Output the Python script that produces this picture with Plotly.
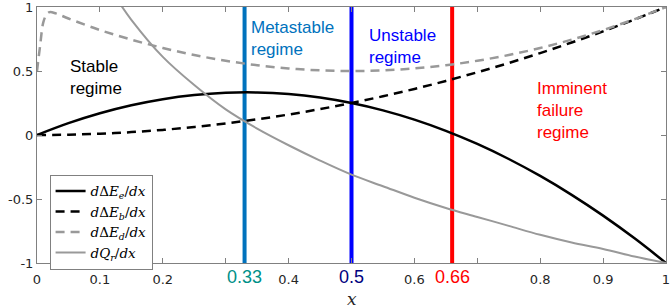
import plotly.graph_objects as go

# ---- data ----
x_e = [0, 0.05, 0.1, 0.15, 0.2, 0.25, 0.3, 0.35, 0.4, 0.45, 0.5, 0.55, 0.6, 0.65, 0.7, 0.75, 0.8, 0.85, 0.9, 0.95, 1.0]
dEe = [0, 0.0925, 0.17, 0.2325, 0.28, 0.3125, 0.33, 0.3325, 0.32, 0.2925, 0.25, 0.1925, 0.12, 0.0325, -0.07, -0.1875, -0.32, -0.4675, -0.63, -0.8075, -1.0]
dEb = [0, 0.0025, 0.01, 0.0225, 0.04, 0.0625, 0.09, 0.1225, 0.16, 0.2025, 0.25, 0.3025, 0.36, 0.4225, 0.49, 0.5625, 0.64, 0.7225, 0.81, 0.9025, 1.0]

x_d = [0, 0.005, 0.01, 0.015, 0.02, 0.03, 0.05, 0.1, 0.15, 0.2, 0.25, 0.3, 0.35, 0.4, 0.45, 0.5, 0.55, 0.6, 0.65, 0.7, 0.75, 0.8, 0.85, 0.9, 0.95, 1.0]
dEd = [0.5, 0.7, 0.88, 0.94, 0.96, 0.95, 0.91, 0.82, 0.745, 0.68, 0.625, 0.58, 0.545, 0.52, 0.505, 0.5, 0.505, 0.52, 0.545, 0.58, 0.625, 0.68, 0.745, 0.82, 0.905, 1.0]

x_q = [0.12, 0.13, 0.15, 0.2, 0.25, 0.3, 0.35, 0.4, 0.45, 0.5, 0.55, 0.6, 0.65, 0.7, 0.75, 0.8, 0.85, 0.9, 0.95, 1.0]
dQr = [1.12, 1.04, 0.90, 0.61, 0.39, 0.20, 0.05, -0.08, -0.20, -0.31, -0.40, -0.49, -0.57, -0.64, -0.71, -0.78, -0.84, -0.89, -0.95, -1.0]

regime_x = [0.33, 0.5, 0.66]
regime_labels = ["0.33", "0.5", "0.66"]
regime_line_colors = ["#0072BD", "#0000FF", "#FF0000"]
regime_tick_colors = ["#009088", "#000080", "#FF0000"]

x_ticks = [0, 0.1, 0.2, 0.3, 0.4, 0.5, 0.6, 0.7, 0.8, 0.9, 1]
x_tick_text = ["0", "0.1", "0.2", "", "0.4", "", "0.6", "", "0.8", "0.9", "1"]
y_ticks = [-1, -0.5, 0, 0.5, 1]
y_tick_text = ["-1", "-0.5", "0", "0.5", "1"]

region_texts = ["Stable<br>regime", "Metastable<br>regime", "Unstable<br>regime", "Imminent<br>failure<br>regime"]
region_x = [0.049, 0.337, 0.525, 0.792]
region_y = [0.625, 0.93, 0.87, 0.455]
region_colors = ["#000000", "#0072BD", "#0000FF", "#FF0000"]

legend_names = [
    "<i>d</i>Δ<i>E</i><sub><i>e</i></sub>/<i>dx</i>",
    "<i>d</i>Δ<i>E</i><sub><i>b</i></sub>/<i>dx</i>",
    "<i>d</i>Δ<i>E</i><sub><i>d</i></sub>/<i>dx</i>",
    "<i>dQ</i><sub><i>r</i></sub>/<i>dx</i>",
]

fig = go.Figure()

# vertical regime lines
for xv, c in zip(regime_x, regime_line_colors):
    fig.add_trace(go.Scatter(x=[xv, xv], y=[-1, 1], mode="lines",
                             line=dict(color=c, width=4), showlegend=False, hoverinfo="skip"))

fig.add_trace(go.Scatter(x=x_e, y=dEe, mode="lines", name=legend_names[0],
                         line=dict(color="black", width=2.5), line_shape="spline"))
fig.add_trace(go.Scatter(x=x_e, y=dEb, mode="lines", name=legend_names[1],
                         line=dict(color="black", width=2.5, dash="9px,6px"), line_shape="spline"))
fig.add_trace(go.Scatter(x=x_d, y=dEd, mode="lines", name=legend_names[2],
                         line=dict(color="#999999", width=2.5, dash="9px,6px"), line_shape="spline"))
fig.add_trace(go.Scatter(x=x_q, y=dQr, mode="lines", name=legend_names[3],
                         line=dict(color="#999999", width=2), line_shape="spline"))

annotations = []
for xv, lab, c in zip(regime_x, regime_labels, regime_tick_colors):
    annotations.append(dict(x=xv, y=0, xref="x", yref="paper", text=lab, showarrow=False,
                            yanchor="top", yshift=-2,
                            font=dict(family="Liberation Sans, Arial", size=18, color=c)))
for t, xv, yv, c in zip(region_texts, region_x, region_y, region_colors):
    annotations.append(dict(x=xv, y=yv, xref="x", yref="y", text=t, showarrow=False,
                            xanchor="left", yanchor="top", align="left",
                            font=dict(family="Liberation Sans, Arial", size=17, color=c)))
annotations.append(dict(x=0.5, y=0, xref="paper", yref="paper", text="<i>x</i>", showarrow=False,
                        yanchor="top", yshift=-24,
                        font=dict(family="DejaVu Serif", size=17, color="#262626")))

axis_common = dict(showgrid=False, zeroline=False, showline=True, linecolor="#808080", linewidth=1,
                   mirror="ticks", ticks="inside", ticklen=5, tickcolor="#808080", automargin=False,
                   ticklabeloverflow="allow",
                   tickfont=dict(family="DejaVu Sans", size=13, color="#262626"))

fig.update_layout(
    width=671, height=308,
    margin=dict(l=37, r=5, t=7, b=45),
    paper_bgcolor="white", plot_bgcolor="white",
    xaxis=dict(range=[0, 1], tickmode="array", tickvals=x_ticks, ticktext=x_tick_text,
               ticklabelstandoff=4, **axis_common),
    yaxis=dict(range=[-1, 1], tickmode="array", tickvals=y_ticks, ticktext=y_tick_text, **axis_common),
    legend=dict(x=0.02, y=0.345, xanchor="left", yanchor="top",
                bgcolor="white", bordercolor="#808080", borderwidth=1,
                font=dict(family="DejaVu Serif", size=13.5, color="black"),
                itemwidth=30, tracegroupgap=0),
    annotations=annotations,
    showlegend=True,
)

fig.write_html("out.html", config={"displayModeBar": False},
               post_script="document.body.style.margin='0';document.body.style.overflow='hidden';")
